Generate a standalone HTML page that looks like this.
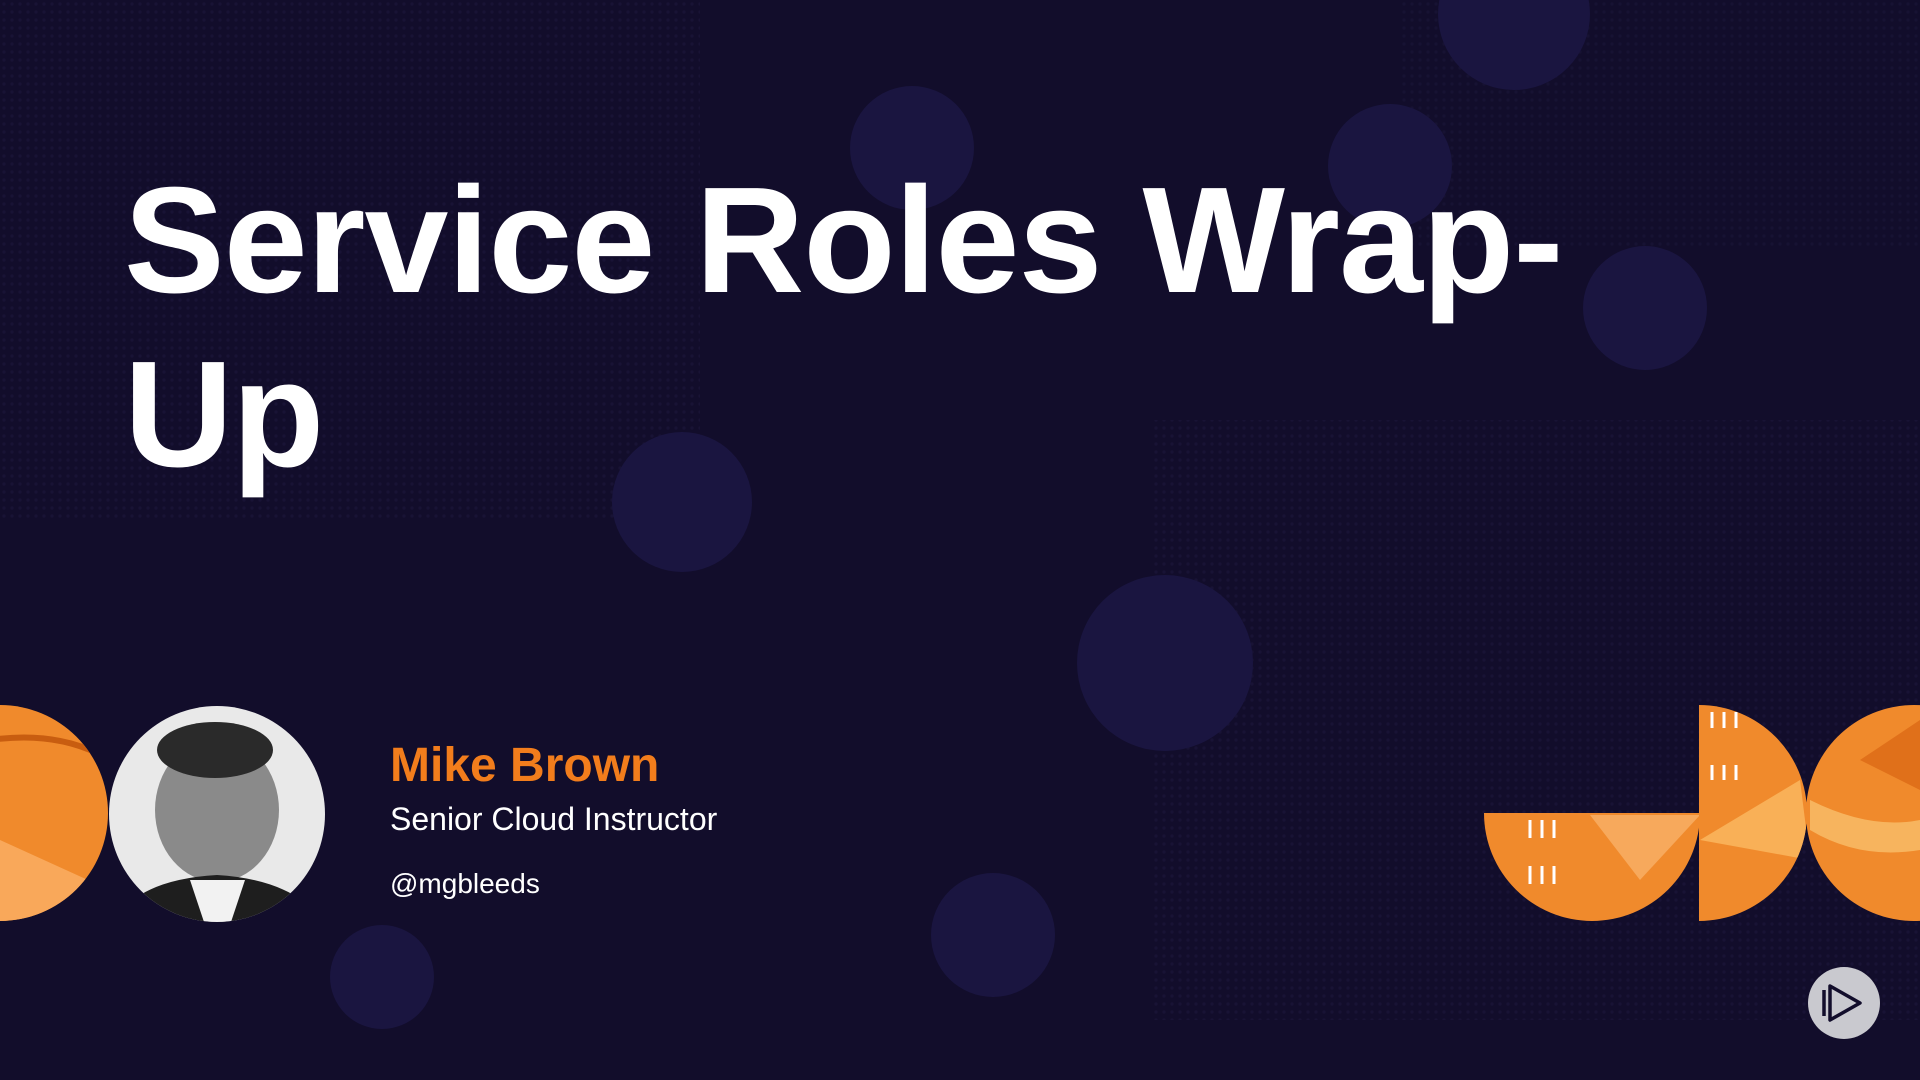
<!DOCTYPE html>
<html><head><meta charset="utf-8"><style>
html,body{margin:0;padding:0;width:1920px;height:1080px;overflow:hidden;background:#120d2b;}
.t{position:absolute;left:124px;font-family:"Liberation Sans",sans-serif;font-weight:bold;color:#fff;font-size:151px;letter-spacing:-1px;line-height:1;}
.n{position:absolute;font-family:"Liberation Sans",sans-serif;}
</style></head><body>
<svg width="1920" height="1080" style="position:absolute;left:0;top:0">
<defs>
<pattern id="dots" width="8" height="8" patternUnits="userSpaceOnUse"><circle cx="4" cy="4" r="1.6" fill="#1a1538"/></pattern>
<clipPath id="ph"><circle cx="217" cy="814" r="108"/></clipPath>
<clipPath id="hb"><path d="M1484 813 A108 108 0 0 0 1700 813 Z"/></clipPath>
<clipPath id="hr"><path d="M1699 705 A108 108 0 0 1 1699 921 Z"/></clipPath>
<clipPath id="cr"><circle cx="1914" cy="813" r="108"/></clipPath>
<clipPath id="cl"><circle cx="0" cy="813" r="108"/></clipPath>
</defs>
<rect width="1920" height="1080" fill="#120d2b"/>
<rect x="0" y="0" width="700" height="520" fill="url(#dots)" opacity="0.8"/>
<rect x="1150" y="420" width="770" height="600" fill="url(#dots)" opacity="0.8"/>
<rect x="1400" y="0" width="520" height="250" fill="url(#dots)" opacity="0.6"/>
<g fill="#1a1540">
<circle cx="1514" cy="14" r="76"/><circle cx="912" cy="148" r="62"/><circle cx="1390" cy="166" r="62"/>
<circle cx="1645" cy="308" r="62"/><circle cx="682" cy="502" r="70"/><circle cx="1165" cy="663" r="88"/>
<circle cx="993" cy="935" r="62"/><circle cx="382" cy="977" r="52"/>
</g>
<g clip-path="url(#cl)"><rect x="-110" y="700" width="220" height="230" fill="#f08a2c"/><path d="M0 840 L110 890 L0 930 Z" fill="#f9a85a"/><path d="M-10 740 Q60 730 110 760" stroke="#c85d10" stroke-width="6" fill="none"/></g>
<g clip-path="url(#ph)"><rect x="100" y="700" width="240" height="240" fill="#e9e9e9"/>
<ellipse cx="217" cy="810" rx="62" ry="72" fill="#8a8a8a"/><ellipse cx="215" cy="750" rx="58" ry="28" fill="#2a2a2a"/>
<path d="M110 930 Q130 880 217 875 Q300 880 330 930 Z" fill="#1e1e1e"/><path d="M190 880 L245 880 L230 925 L205 925 Z" fill="#f2f2f2"/></g>
<g clip-path="url(#hb)"><rect x="1480" y="810" width="225" height="115" fill="#f08a2c"/><path d="M1590 815 L1700 815 L1640 880 Z" fill="#f7a95c"/>
<g stroke="#fff" stroke-width="3"><line x1="1530" y1="820" x2="1530" y2="838"/><line x1="1542" y1="820" x2="1542" y2="838"/><line x1="1554" y1="820" x2="1554" y2="838"/><line x1="1530" y1="866" x2="1530" y2="884"/><line x1="1542" y1="866" x2="1542" y2="884"/><line x1="1554" y1="866" x2="1554" y2="884"/></g></g>
<g clip-path="url(#hr)"><rect x="1698" y="700" width="115" height="225" fill="#f08a2c"/><path d="M1700 840 L1800 780 L1810 860 Z" fill="#f9b057"/>
<g stroke="#fff" stroke-width="3"><line x1="1712" y1="712" x2="1712" y2="728"/><line x1="1724" y1="712" x2="1724" y2="728"/><line x1="1736" y1="712" x2="1736" y2="728"/><line x1="1712" y1="765" x2="1712" y2="780"/><line x1="1724" y1="765" x2="1724" y2="780"/><line x1="1736" y1="765" x2="1736" y2="780"/></g></g>
<g clip-path="url(#cr)"><rect x="1800" y="700" width="230" height="230" fill="#f08a2c"/><path d="M1810 800 Q1870 830 1920 820 L1920 850 Q1860 860 1810 830 Z" fill="#f7b45e"/><path d="M1860 760 L1920 720 L1920 790 Z" fill="#e0701a"/></g>
<circle cx="1844" cy="1003" r="36" fill="#c9c9cf"/>
<path d="M1830 986 L1860 1003 L1830 1020 Z M1824 990 L1824 1016" stroke="#120d2b" stroke-width="3.5" fill="none" stroke-linejoin="round"/>
</svg>
<div class="t" style="top:164px">Service Roles Wrap-</div>
<div class="t" style="top:338px">Up</div>
<div class="n" style="left:390px;top:738px;font-size:48px;font-weight:bold;color:#f27d1c">Mike Brown</div>
<div class="n" style="left:390px;top:801px;font-size:32px;color:#fff">Senior Cloud Instructor</div>
<div class="n" style="left:390px;top:868px;font-size:28px;color:#fff">@mgbleeds</div>
</body></html>
